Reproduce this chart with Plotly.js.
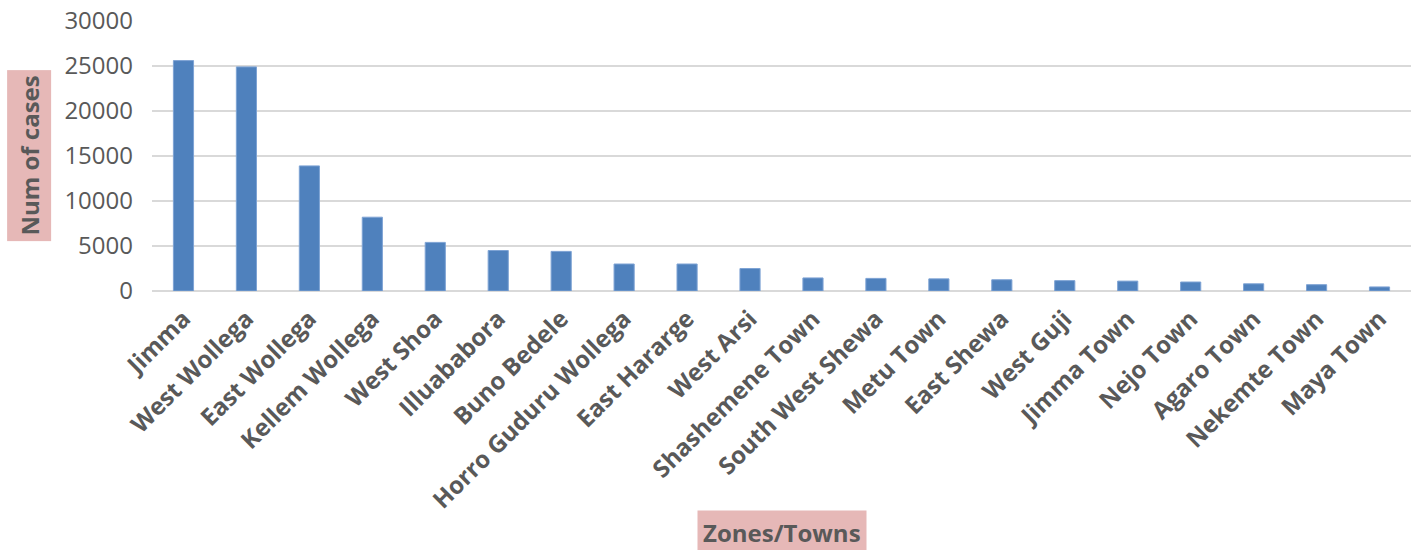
<!DOCTYPE html>
<html>
<head>
<meta charset="utf-8">
<script src="https://cdn.plot.ly/plotly-3.0.1.min.js"></script>
<style>html,body{margin:0;padding:0;background:#fff;}#chart{width:1418px;height:550px;}</style>
</head>
<body>
<div id="chart"></div>
<script>
const categories = ["Jimma","West Wollega","East Wollega","Kellem Wollega","West Shoa","Illuababora","Buno Bedele","Horro Guduru Wollega","East Hararge","West Arsi","Shashemene Town","South West Shewa","Metu Town","East Shewa","West Guji","Jimma Town","Nejo Town","Agaro Town","Nekemte Town","Maya Town"];
const cases = [25600,24900,13900,8200,5400,4500,4400,3000,3000,2500,1450,1400,1350,1250,1150,1100,1000,800,700,450];
const yTicks = [0,5000,10000,15000,20000,25000,30000];

const trace = {
  type: "bar",
  x: categories,
  y: cases,
  marker: {color: "#4f81bd", line: {color: "#7ea3d4", width: 1}},
  hoverinfo: "x+y"
};

const layout = {
  width: 1418, height: 550,
  margin: {l: 152, r: 7, t: 21, b: 259},
  paper_bgcolor: "#fff", plot_bgcolor: "#fff",
  bargap: 0.68,
  showlegend: false,
  font: {family: "Open Sans, sans-serif", color: "#595959"},
  xaxis: {
    type: "category",
    tickangle: -45,
    tickfont: {family: "Open Sans, sans-serif", size: 24, color: "#595959", weight: "bold"},
    ticklabelstandoff: 8,
    showgrid: false,
    showline: false,
    ticks: "",
    zeroline: false,
    automargin: false
  },
  yaxis: {
    range: [0, 30000],
    tickvals: yTicks,
    ticktext: yTicks.map(String),
    tickfont: {family: "Open Sans, sans-serif", size: 24, color: "#595959"},
    ticklabelstandoff: 18,
    gridcolor: "#d9d9d9",
    gridwidth: 2,
    zeroline: true,
    zerolinecolor: "#d9d9d9",
    zerolinewidth: 2,
    ticks: "",
    ticklen: 0,
    automargin: false
  },
  annotations: [
    {
      text: "<b>Num of cases</b>",
      xref: "paper", yref: "paper",
      x: -0.098, y: 0.5, xanchor: "center", yanchor: "middle",
      textangle: -90, showarrow: false,
      bgcolor: "#e6b8b7",
      font: {family: "Open Sans, sans-serif", size: 24, color: "#595959"},
      borderpad: 5
    },
    {
      text: "<b>Zones/Towns</b>",
      xref: "paper", yref: "paper",
      x: 0.5, y: -0.896, xanchor: "center", yanchor: "middle",
      showarrow: false,
      bgcolor: "#e6b8b7",
      font: {family: "Open Sans, sans-serif", size: 24, color: "#595959"},
      borderpad: 5
    }
  ]
};

Plotly.newPlot("chart", [trace], layout, {displayModeBar: false, responsive: false});
</script>
</body>
</html>
